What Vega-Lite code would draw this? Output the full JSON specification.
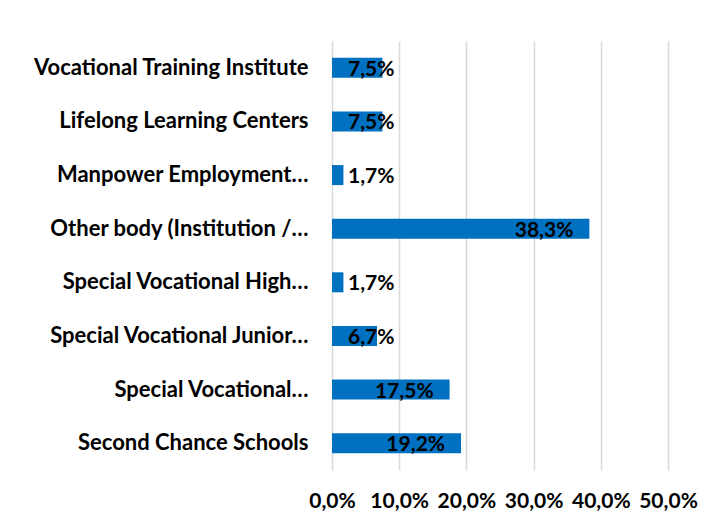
{
  "$schema": "https://vega.github.io/schema/vega-lite/v6.json",
  "width": 336,
  "height": 429,
  "autosize": {"type": "none"},
  "padding": {"left": 332, "top": 41, "right": 50, "bottom": 54},
  "background": "white",
  "config": {
    "locale": {"number": {"decimal": ",", "thousands": ".", "grouping": [3], "currency": ["", " €"]}},
    "view": {"stroke": null},
    "font": "Lato"
  },
  "data": {
    "values": [
      {"category": "Vocational Training Institute", "value": 0.075},
      {"category": "Lifelong Learning Centers", "value": 0.075},
      {"category": "Manpower Employment…", "value": 0.017},
      {"category": "Other body (Institution /…", "value": 0.383},
      {"category": "Special Vocational High…", "value": 0.017},
      {"category": "Special Vocational Junior…", "value": 0.067},
      {"category": "Special Vocational…", "value": 0.175},
      {"category": "Second Chance Schools", "value": 0.192}
    ]
  },
  "encoding": {
    "y": {
      "field": "category",
      "type": "nominal",
      "sort": null,
      "scale": {"paddingInner": 0, "paddingOuter": 0},
      "axis": {
        "title": null,
        "domain": false,
        "ticks": false,
        "labelFont": "Lato",
        "labelFontWeight": "bold",
        "labelFontSize": 22,
        "labelColor": "#000000",
        "labelPadding": 24,
        "labelLimit": 400
      }
    }
  },
  "layer": [
    {
      "mark": {"type": "bar", "color": "#0070C0", "height": 20},
      "encoding": {
        "x": {
          "field": "value",
          "type": "quantitative",
          "scale": {"domain": [0, 0.5], "nice": false},
          "axis": {
            "title": null,
            "format": ".1%",
            "values": [0, 0.1, 0.2, 0.3, 0.4, 0.5],
            "labelOverlap": false,
            "labelBound": false,
            "labelFlush": false,
            "domain": false,
            "ticks": false,
            "grid": true,
            "gridColor": "#D9D9D9",
            "gridWidth": 1.5,
            "labelFont": "Lato",
            "labelFontWeight": "bold",
            "labelFontSize": 21,
            "labelColor": "#000000",
            "labelPadding": 20
          }
        }
      }
    },
    {
      "transform": [{"filter": "datum.value >= 0.12"}],
      "mark": {"type": "text", "align": "right", "baseline": "middle", "dx": -16, "dy": 2, "font": "Lato", "fontWeight": "bold", "fontSize": 21, "color": "#000000"},
      "encoding": {
        "x": {"field": "value", "type": "quantitative"},
        "text": {"field": "value", "type": "quantitative", "format": ".1%"}
      }
    },
    {
      "transform": [{"filter": "datum.value < 0.12"}],
      "mark": {"type": "text", "align": "left", "baseline": "middle", "dx": 16, "dy": 2, "font": "Lato", "fontWeight": "bold", "fontSize": 21, "color": "#000000"},
      "encoding": {
        "x": {"datum": 0, "type": "quantitative"},
        "text": {"field": "value", "type": "quantitative", "format": ".1%"}
      }
    }
  ]
}
